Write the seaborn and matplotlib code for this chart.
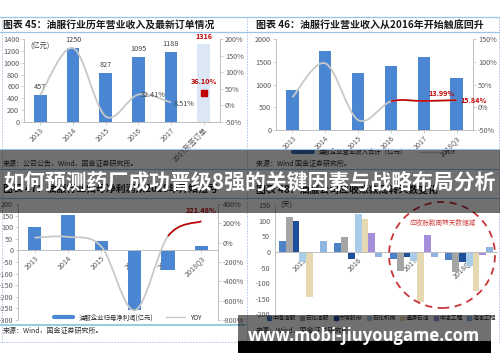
import numpy as np
import pandas as pd
import seaborn as sns
import matplotlib.pyplot as plt
from matplotlib.path import Path
from matplotlib.patches import PathPatch, Ellipse, Rectangle
from matplotlib.lines import Line2D

# ---- data ----
years_a = ['2013', '2014', '2015', '2016', '2017', '2017新签订单']
revenue_a = [457, 1250, 827, 1095, 1188, 1316]
yoy_a = [31, 173.5, -33.8, 32.41, 8.51]
order_yoy = 36.10

years_b = ['2013', '2014', '2015', '2016', '2017', '2018Q3']
revenue_b = [873, 1745, 1250, 1411, 1608, 1149]
yoy_b = [22, 97, -28, 13, 13.99, 15.84]

years_c = ['2013', '2014', '2015', '2016', '2017', '2018Q3']
profit_c = [100, 151, 41, -258, -86, 20]
yoy_c = [52, 60, -40, -700, 67, 221.48]

years_d = ['2015', '2016', '2017', '2018Q3']
companies = ['中海油服', '石化油服', '杰瑞股份', '石化机械', '通源石油', '中油工程', '海油工程']
d_zhyf = [35, 29, -23, -27]
d_shyf = [111, 48, -62, -64]
d_jrgf = [100, -21, -16, -32]
d_shjx = [-32, 121, -28, -46]
d_tysy = [-143, 107, -160, -124]
d_zygc = [0, 62, 56, -9]
d_hygc = [34, -17, -16, 16]

W, H = 500, 362
BLUE = '#4a86d2'
GRAY_LINE = '#c8c8c8'
RED = '#c00000'
AX_COL = '#bfbfbf'
TXT = '#595959'

sns.set_style('white')
plt.rcParams['font.family'] = ['Noto Sans CJK SC', 'DejaVu Sans']
plt.rcParams['axes.unicode_minus'] = False


def box(x0, y0, x1, y1):
    return [x0 / W, 1 - y1 / H, (x1 - x0) / W, (y1 - y0) / H]


def smooth_path(xs, ys, start=0):
    # Excel-style smoothed line (Catmull-Rom as cubic Bezier)
    pts = np.column_stack([xs, ys]).astype(float)
    n = len(pts)
    verts, codes = [pts[start]], [Path.MOVETO]
    for i in range(start, n - 1):
        p0, p1, p2 = pts[max(i - 1, 0)], pts[i], pts[i + 1]
        p3 = pts[min(i + 2, n - 1)]
        verts += [p1 + (p2 - p0) / 6, p2 - (p3 - p1) / 6, p2]
        codes += [Path.CURVE4] * 3
    return Path(verts, codes)


def style_axes(ax, ax2=None, zero_axis=False):
    sns.despine(ax=ax, top=True, right=True)
    for s in ['left', 'bottom']:
        ax.spines[s].set_color(AX_COL)
        ax.spines[s].set_linewidth(0.7)
    if zero_axis:
        ax.spines['bottom'].set_position(('data', 0))
    ax.tick_params(axis='y', length=2, width=0.5, color=AX_COL, labelsize=5.2,
                   labelcolor=TXT, pad=1.5)
    ax.tick_params(axis='x', length=2, width=0.5, color=AX_COL, labelsize=5.2,
                   labelcolor=TXT, pad=1, bottom=True)
    for lab in ax.get_xticklabels():
        lab.set_rotation(45)
        lab.set_ha('right')
        lab.set_rotation_mode('anchor')
    ax.set_xlabel('')
    ax.set_ylabel('')
    if ax2 is not None:
        for s in ['left', 'top', 'bottom']:
            ax2.spines[s].set_visible(False)
        ax2.spines['right'].set_color(AX_COL)
        ax2.spines['right'].set_linewidth(0.7)
        ax2.tick_params(axis='y', length=2, width=0.5, color=AX_COL, labelsize=5.2,
                        labelcolor=TXT, pad=1.5)


fig = plt.figure(figsize=(5, 3.62), dpi=100)
fig.patch.set_facecolor('white')

# ---- panel A ----
ax = fig.add_axes(box(24, 39.3, 220, 121.7))
sns.barplot(x=years_a, y=revenue_a, color=BLUE, width=0.38, linewidth=0,
            saturation=1, ax=ax)
ax.patches[-1].set_facecolor('#dce7f5')
ax.set_xlim(-0.5, 5.5)
ax.set_ylim(0, 1400)
ax.set_yticks(range(0, 1401, 200))
ax2 = ax.twinx()
ax2.set_ylim(-50, 200)
ax2.set_yticks(range(-50, 201, 50))
ax2.set_yticklabels([f'{v}%' for v in range(-50, 201, 50)])
ax2.add_patch(PathPatch(smooth_path(range(len(yoy_a)), yoy_a), fill=False,
                        ec=GRAY_LINE, lw=1.3))
ax2.scatter([5], [order_yoy], marker='s', s=14, color=RED, zorder=5)
style_axes(ax, ax2)
for i, v in enumerate(revenue_a[:-1]):
    ax.annotate(str(v), (i, v), xytext=(0, 3), textcoords='offset points',
                ha='center', va='bottom', fontsize=5.2, color='#404040')
ax.annotate(str(revenue_a[-1]), (5, revenue_a[-1]), xytext=(0, 3),
            textcoords='offset points', ha='center', va='bottom', fontsize=5.2,
            color=RED, weight='bold')
ax2.annotate(f'{yoy_a[3]:.2f}%', (3, yoy_a[3]), xytext=(2, 0), textcoords='offset points',
             ha='left', va='center', fontsize=5.2, color='#404040')
ax2.annotate(f'{yoy_a[4]:.2f}%', (4, yoy_a[4]), xytext=(2, -1), textcoords='offset points',
             ha='left', va='center', fontsize=5.2, color='#404040')
ax2.annotate(f'{order_yoy:.2f}%', (5, order_yoy), xytext=(0, 6), textcoords='offset points',
             ha='center', va='bottom', fontsize=5.2, color=RED, weight='bold')
ax.text(0.03, 0.97, '(亿元)', transform=ax.transAxes, fontsize=5.2, color='#404040',
        va='top')

# ---- panel B ----
bx = fig.add_axes(box(276, 39.3, 473, 130))
sns.barplot(x=years_b, y=revenue_b, color=BLUE, width=0.38, linewidth=0,
            saturation=1, ax=bx)
bx.set_xlim(-0.5, 5.5)
bx.set_ylim(0, 2000)
bx.set_yticks(range(0, 2001, 500))
bx2 = bx.twinx()
bx2.set_ylim(-50, 150)
bx2.set_yticks(range(-50, 151, 50))
bx2.set_yticklabels([f'{v}%' for v in range(-50, 151, 50)])
bx2.add_patch(PathPatch(smooth_path(range(len(yoy_b)), yoy_b), fill=False,
                        ec=GRAY_LINE, lw=1.3))
bx2.add_patch(PathPatch(smooth_path(range(len(yoy_b)), yoy_b, start=3), fill=False,
                        ec=RED, lw=1.2))
style_axes(bx, bx2)
bx2.annotate(f'{yoy_b[4]:.2f}%', (4, yoy_b[4]), xytext=(3, 3), textcoords='offset points',
             ha='left', va='bottom', fontsize=5.2, color=RED, weight='bold')
bx2.annotate(f'{yoy_b[5]:.2f}%', (5, yoy_b[5]), xytext=(3, 0), textcoords='offset points',
             ha='left', va='center', fontsize=5.2, color=RED, weight='bold')
bx.legend(handles=[Line2D([], [], color='#3f6fb5', lw=3),
                   Line2D([], [], color=GRAY_LINE, lw=1)],
          labels=['油服企业营业收入合计（亿元）', 'YOY'], loc='center',
          bbox_to_anchor=(0.5, -0.24), ncol=2, frameon=False, fontsize=4.6,
          handlelength=3, columnspacing=2)

# ---- panel C ----
cx = fig.add_axes(box(18, 204, 218, 320))
sns.barplot(x=years_c, y=profit_c, color=BLUE, width=0.4, linewidth=0,
            saturation=1, ax=cx)
cx.set_xlim(-0.5, 5.5)
cx.set_ylim(-300, 200)
cx.set_yticks(range(-300, 201, 50))
cx2 = cx.twinx()
cx2.set_ylim(-800, 400)
cx2.set_yticks(range(-800, 401, 200))
cx2.set_yticklabels([f'{v}%' for v in range(-800, 401, 200)])
cx2.add_patch(PathPatch(smooth_path(range(len(yoy_c)), yoy_c), fill=False,
                        ec=GRAY_LINE, lw=1.3))
cx2.add_patch(PathPatch(smooth_path(range(len(yoy_c)), yoy_c, start=4), fill=False,
                        ec=RED, lw=1.2))
style_axes(cx, cx2, zero_axis=True)
for lab in cx.get_xticklabels():
    lab.set_zorder(5)
cx2.annotate(f'{yoy_c[5]:.2f}%', (5, yoy_c[5]), xytext=(0, 5), textcoords='offset points',
             ha='center', va='bottom', fontsize=5.2, color=RED, weight='bold')
cx.legend(handles=[Line2D([], [], color=BLUE, lw=3),
                   Line2D([], [], color=GRAY_LINE, lw=1)],
          labels=['油服企业归母净利润(亿元)', 'YOY'], loc='center',
          bbox_to_anchor=(0.55, 0.02), ncol=2, frameon=False, fontsize=4.6,
          handlelength=3, columnspacing=2)

# ---- panel D ----
colors_d = ['#4f81c7', '#a5a5a5', '#1f4e9c', '#a9cce9', '#e6d8b0', '#a58fdb', '#8fb6e3']
rows = []
for name, vals in zip(companies, [d_zhyf, d_shyf, d_jrgf, d_shjx, d_tysy, d_zygc, d_hygc]):
    for yr, v in zip(years_d, vals):
        rows.append({'year': yr, 'company': name, 'days': v})
df_d = pd.DataFrame(rows)
dx = fig.add_axes(box(275, 205.2, 497, 314.3))
sns.barplot(data=df_d, x='year', y='days', hue='company', hue_order=companies,
            palette=colors_d, width=0.86, linewidth=0, saturation=1, ax=dx)
dx.set_xlim(-0.5, 3.5)
dx.set_ylim(-200, 150)
dx.set_yticks(range(-200, 151, 50))
style_axes(dx, zero_axis=True)
dx.legend(handles=[Line2D([], [], marker='s', ls='', color=c, markersize=3) for c in colors_d],
          labels=companies, loc='center', bbox_to_anchor=(0.48, -0.035), ncol=7,
          frameon=False, fontsize=4.2, handlelength=0.6, handletextpad=0.3,
          columnspacing=0.8)
dx.text(0.025, 1.0, '(天)', transform=dx.transAxes, fontsize=5.2, color='#404040',
        va='center')
fig.add_artist(Ellipse((442 / W, 1 - 255 / H), 106 / W, 106 / H, transform=fig.transFigure,
                       fill=False, ec='#c9343a', lw=1.3, ls=(0, (4, 3))))
fig.text(443 / W, 1 - 223 / H, '应收账款周转天数缩减', color='#d04040', fontsize=4.8,
         ha='center', va='center')

# ---- frames, headers, sources ----
LB = '#9dc3e6'
for y in [17, 32]:
    fig.add_artist(Line2D([0, 1], [1 - y / H] * 2, color=LB, lw=0.9, transform=fig.transFigure))
for y in [149, 169, 198]:
    fig.add_artist(Line2D([0, 1], [1 - y / H] * 2, color=LB, lw=0.8, transform=fig.transFigure))
fig.add_artist(Line2D([0, 0.49], [1 - 325 / H] * 2, color='#7fc6dc', lw=1.2,
                      transform=fig.transFigure))
for x in [1.5, 246.5, 498.5]:
    fig.add_artist(Line2D([x / W] * 2, [1 - 17 / H, 1 - 342 / H], color='#a8bfe0', lw=0.6,
                          ls=(0, (2, 1.5)), transform=fig.transFigure))
fig.add_artist(Line2D([0, 0.49], [1 - 342 / H] * 2, color='#a8bfe0', lw=0.6,
                      ls=(0, (2, 1.5)), transform=fig.transFigure))

fig.text(3 / W, 1 - 24.5 / H, '图表 45：油服行业历年营业收入及最新订单情况', fontsize=7.1,
         weight='bold', color='#1a1a1a', va='center')
fig.text(256 / W, 1 - 24.5 / H, '图表 46：油服行业营业收入从2016年开始触底回升', fontsize=7.2,
         weight='bold', color='#1a1a1a', va='center')
fig.text(3 / W, 1 - 190 / H, '图表 47：油服行业归母净利润从2018年开始扭亏', fontsize=7.1,
         weight='bold', color='#1a1a1a', va='center')
fig.text(256 / W, 1 - 190 / H, '图表 48：油服公司应收账款周转天数变化', fontsize=7.1,
         weight='bold', color='#1a1a1a', va='center')
fig.text(3 / W, 1 - 164 / H, '来源：公司公告，Wind，国金证券研究所。', fontsize=5, color='#303030',
         va='center')
fig.text(256 / W, 1 - 164 / H, '来源：Wind 国金证券研究所。', fontsize=5, color='#303030',
         va='center')
fig.text(3 / W, 1 - 331 / H, '来源：Wind，国金证券研究所。', fontsize=5, color='#303030',
         va='center')
fig.text(256 / W, 1 - 331 / H, '来源：Wind，国金证券研究所。', fontsize=5, color='#303030',
         va='center')

# ---- overlays ----
fig.add_artist(Rectangle((0, 1 - 213 / H), 1, 63 / H, transform=fig.transFigure,
                         color='black', alpha=0.56, lw=0, zorder=10))
fig.text(0.5, 1 - 182 / H, '如何预测药厂成功晋级8强的关键因素与战略布局分析', color='white',
         fontsize=15, weight='bold', ha='center', va='center', zorder=11)
fig.add_artist(Rectangle((238 / W, 1 - 341 / H), 253 / W, 26 / H, transform=fig.transFigure,
                         color='black', alpha=0.56, lw=0, zorder=10))
fig.add_artist(Rectangle((238 / W, 1 - 353 / H), 253 / W, 12 / H, transform=fig.transFigure,
                         color='black', lw=0, zorder=10))
fig.text(364 / W, 1 - 336 / H, 'www.mobi-jiuyougame.com', color='white', fontsize=12,
         weight='bold', family='Open Sans', ha='center', va='center', zorder=11)

fig.savefig('out.png', dpi=100)
